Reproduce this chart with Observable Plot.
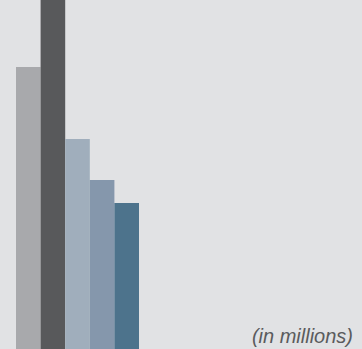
<!DOCTYPE html>
<html>
<head>
<meta charset="utf-8">
<script src="https://cdn.jsdelivr.net/npm/d3@7"></script>
<script src="https://cdn.jsdelivr.net/npm/@observablehq/plot@0.6"></script>
<style>
  html, body { margin: 0; padding: 0; background: #e1e2e4; }
  #wrap { position: relative; width: 362px; height: 349px; overflow: hidden; background: #e1e2e4; }
  #note { position: absolute; right: 9px; bottom: 3px; font-family: "Liberation Sans", Arial, Helvetica, sans-serif; font-style: italic; font-weight: 300; font-size: 20px; color: #5a5b5d; line-height: 1; }
</style>
</head>
<body>
<div id="wrap"><div id="note">(in millions)</div></div>
<script>
const categories = ["A", "B", "C", "D", "E"];
const values = [282, 360, 210, 169, 146];
const colors = ["#a8a9ac", "#58595b", "#a0aebc", "#8597ac", "#4d738c"];

const data = categories.map((c, i) => ({category: c, value: values[i]}));

const chart = Plot.plot({
  width: 362,
  height: 349,
  marginLeft: 16,
  marginRight: 223,
  marginTop: 0,
  marginBottom: 0,
  style: {background: "transparent", overflow: "hidden"},
  x: {domain: categories, padding: 0, round: false, axis: null},
  y: {domain: [0, 349], axis: null},
  color: {domain: categories, range: colors},
  marks: [
    Plot.barY(data, {x: "category", y: "value", fill: "category", clip: true})
  ]
});
document.getElementById("wrap").prepend(chart);
</script>
</body>
</html>
